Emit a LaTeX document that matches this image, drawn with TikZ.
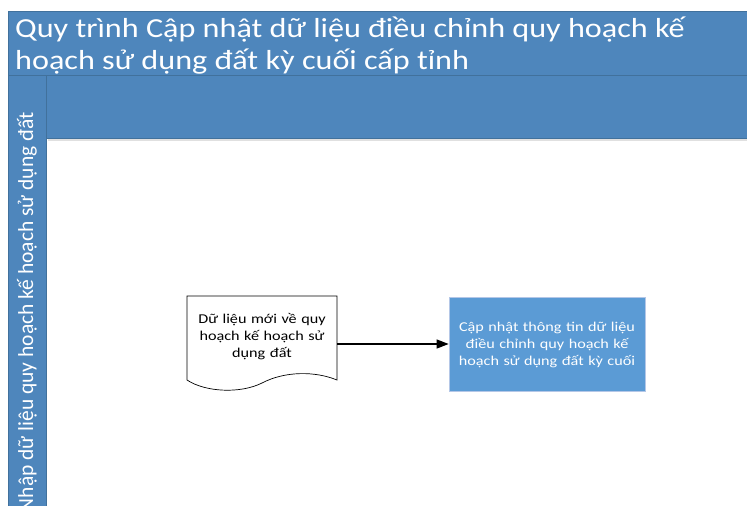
\documentclass[tikz,border=0pt]{standalone}
\usepackage{fontspec}
\setmainfont{Carlito}
\newfontfamily\widefont{Carlito}[FakeStretch=1.2]
\newfontfamily\titlefont{Carlito}[FakeStretch=1.17]
\usetikzlibrary{arrows.meta}
\definecolor{band}{HTML}{4E86BC}
\definecolor{bandline}{HTML}{41719C}
\definecolor{boxfill}{HTML}{5B9BD5}
\definecolor{boxline}{HTML}{B4C7E7}
\tikzset{
  bandbox/.style={fill=band, draw=bandline, line width=0.8pt},
  doctext/.style={font=\widefont\fontsize{13.5}{17}\selectfont, align=center, text width=150pt},
  proctext/.style={font=\widefont\fontsize{13.5}{17}\selectfont, align=center, text width=196pt, text=white},
  flow/.style={line width=1.2pt, -{Triangle[length=12pt,width=9pt]}}
}
\begin{document}
\begin{tikzpicture}[x=1pt,y=-1pt]
\useasboundingbox (0,0) rectangle (747,506);
% shadow under header band
\fill[black!12] (48,138) rectangle (747,141);
% title band
\draw[bandbox] (8,11) rectangle (760,75);
\node[anchor=north west, inner sep=0pt, text=white, align=left,
      font=\titlefont\fontsize{27.5}{32}\selectfont] (title) at (15,17)
  {Quy trình Cập nhật dữ liệu điều chỉnh quy hoạch kế\\hoạch sử dụng đất kỳ cuối cấp tỉnh};
% header band
\draw[bandbox] (46,75) rectangle (760,138);
% lane band
\draw[bandbox] (8,75) rectangle (46,520);
\node[rotate=90, anchor=east, inner sep=0pt, text=white,
      font=\fontsize{21.5}{24}\selectfont] (lane) at (27,112)
  {Nhập dữ liệu quy hoạch kế hoạch sử dụng đất};
% document shape
\draw[line width=0.7pt, fill=white] (187,296) -- (337,296) -- (337,380)
  .. controls (315,371) and (285,371) .. (262,383)
  .. controls (240,394) and (205,392) .. (187,380) -- cycle;
\node[doctext] (doc) at (262,337)
  {Dữ liệu mới về quy\\hoạch kế hoạch sử\\dụng đất};
\coordinate (docE) at (337,344);
% process box
\node[draw=boxline, fill=boxfill, line width=0.7pt, minimum width=196pt,
      minimum height=94pt, inner sep=0pt] (proc) at (547,344) {};
\node[proctext] (proctxt) at (547,345)
  {Cập nhật thông tin dữ liệu\\điều chỉnh quy hoạch kế\\hoạch sử dụng đất kỳ cuối};
\draw[flow] (docE) -- (proc.west);
\end{tikzpicture}
\end{document}
